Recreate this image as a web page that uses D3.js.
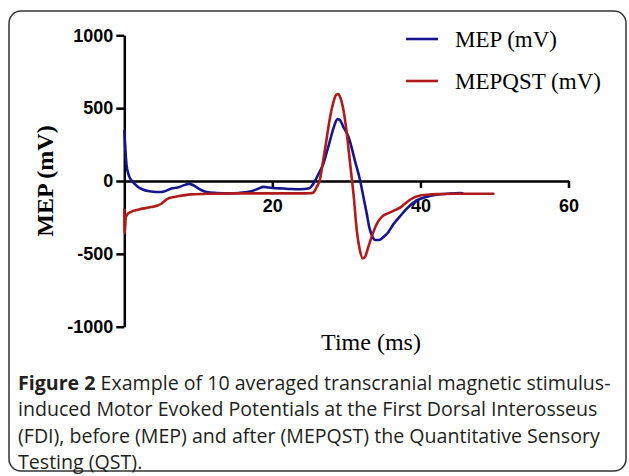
<!DOCTYPE html>
<html>
<head>
<meta charset="utf-8">
<script src="https://cdn.jsdelivr.net/npm/d3@7"></script>
<style>
  body { margin: 0; background: #fff; }
  svg { display: block; }
</style>
</head>
<body>
<svg id="chart" width="629" height="476"></svg>
<script>
// MEP before QST (blue)
var mepTime = [0, 0.3, 0.6, 0.95, 1.4, 1.85, 2.5, 3.2, 4.2, 5.0, 5.7, 6.35, 7.2, 8.0, 8.7, 9.2, 9.7, 10.4, 11.1, 12.5,
  14.0, 15.5, 17.0, 18.0, 18.8, 19.5, 20.1, 21.5, 22.5, 23.7, 25.0, 25.5, 26.0, 26.5, 26.9, 27.3, 27.8, 28.3, 28.8, 29.1,
  29.6, 30.3, 31.2, 31.85, 32.3, 32.75, 33.1, 33.5, 33.9, 34.4, 35.0, 35.6, 36.3, 37.2, 38.0, 38.6, 39.1, 40.0, 40.9, 42.2,
  43.6, 45.3, 45.8]
var mepValue = [349, 110, 40, 5, -20, -41, -58, -69, -75, -76, -66, -52, -45, -30, -20, -26, -41, -62, -76, -82,
  -85, -82, -72, -55, -40, -45, -48, -52, -55, -57, -50, -20, 25, 75, 120, 189, 280, 370, 425, 420,
  370, 300, 130, 5, -110, -224, -320, -380, -405, -405, -385, -355, -300, -245, -198, -168, -147, -122, -108, -94,
  -88, -83, -85]

// MEP after QST (red)
var qstTime = [0, 0.05, 0.2, 0.5, 1.0, 1.85, 3.6, 4.5, 5.0, 5.5, 5.9, 6.5, 7.2, 9.0, 11.7, 15, 20, 24.5, 25.0, 25.5,
  26.0, 26.4, 26.8, 27.3, 27.8, 28.2, 28.6, 28.9, 29.2, 29.6, 30.0, 30.5, 31.0, 31.4, 31.8, 32.2, 32.5, 33.0, 33.5, 34.0,
  34.5, 35.0, 35.6, 36.4, 37.2, 37.8, 38.5, 39.1, 40.0, 40.9, 42.5, 45, 50]
var qstValue = [-190, -360, -250, -224, -210, -197, -179, -168, -156, -135, -121, -112, -105, -92, -87, -85, -85, -85, -84, -80,
  -40, 5, 120, 280, 440, 533, 590, 597, 570, 487, 350, 120, -110, -339, -470, -530, -522, -445, -370, -305,
  -262, -237, -222, -203, -185, -160, -132, -114, -100, -94, -90, -88, -87]

var seriesNames = ['MEP (mV)', 'MEPQST (mV)']
var seriesColors = ['#16168c', '#b01b1b']
var xTicks = [20, 40, 60]
var yTicks = [-1000, -500, 0, 500, 1000]
var captionLines = [
  ['Figure 2', ' Example of 10 averaged transcranial magnetic stimulus-'],
  ['', 'induced Motor Evoked Potentials at the First Dorsal Interosseus'],
  ['', '(FDI), before (MEP) and after (MEPQST) the Quantitative Sensory'],
  ['', 'Testing (QST).']
]

var svg = d3.select('#chart')

// outer frame
svg.append('rect')
  .attr('x', 9).attr('y', 11)
  .attr('width', 617).attr('height', 460)
  .attr('rx', 12)
  .attr('fill', 'none')
  .attr('stroke', '#333')
  .attr('stroke-width', 1.5)

var x = d3.scaleLinear().domain([0, 60]).range([124.3, 568.5])
var y = d3.scaleLinear().domain([-1000, 1000]).range([326.7, 35.3])

function plain (d) { return String(d) }

// y axis
var yAxis = svg.append('g')
  .attr('transform', 'translate(' + x(0) + ',0)')
  .call(d3.axisLeft(y).tickValues(yTicks).tickFormat(plain).tickSize(8).tickSizeOuter(0).tickPadding(3))
yAxis.selectAll('path, line').attr('stroke', '#000').attr('stroke-width', 2.5)
yAxis.selectAll('text')
  .attr('font-family', 'Liberation Sans, Arial, sans-serif')
  .attr('font-weight', 'bold')
  .attr('font-size', 18)
  .attr('fill', '#000')

// x axis through zero
var xAxis = svg.append('g')
  .attr('transform', 'translate(0,' + y(0) + ')')
  .call(d3.axisBottom(x).tickValues(xTicks).tickFormat(plain).tickSize(7).tickSizeOuter(0).tickPadding(11))
xAxis.selectAll('path, line').attr('stroke', '#000').attr('stroke-width', 2.5)
xAxis.selectAll('text')
  .attr('font-family', 'Liberation Sans, Arial, sans-serif')
  .attr('font-weight', 'bold')
  .attr('font-size', 18)
  .attr('fill', '#000')

// curves
var line = d3.line()
  .x(function (d) { return x(d[0]) })
  .y(function (d) { return y(d[1]) })
  .curve(d3.curveMonotoneX)

var series = [
  d3.zip(mepTime, mepValue),
  d3.zip(qstTime, qstValue)
]

svg.selectAll('.trace')
  .data(series)
  .enter()
  .append('path')
  .attr('class', 'trace')
  .attr('d', line)
  .attr('fill', 'none')
  .attr('stroke', function (d, i) { return seriesColors[i] })
  .attr('stroke-width', 2.6)
  .attr('stroke-linejoin', 'round')

// axis titles
svg.append('text')
  .attr('transform', 'translate(53,181) rotate(-90)')
  .attr('text-anchor', 'middle')
  .attr('font-family', 'Liberation Serif, Times New Roman, serif')
  .attr('font-weight', 'bold')
  .attr('font-size', 24)
  .text('MEP (mV)')

svg.append('text')
  .attr('x', 371).attr('y', 350)
  .attr('text-anchor', 'middle')
  .attr('font-family', 'Liberation Serif, Times New Roman, serif')
  .attr('font-size', 24)
  .text('Time (ms)')

// legend
var legend = svg.selectAll('.legend')
  .data(seriesNames)
  .enter()
  .append('g')
  .attr('class', 'legend')
  .attr('transform', function (d, i) { return 'translate(406,' + (39 + i * 42) + ')' })

legend.append('line')
  .attr('x1', 0).attr('x2', 32)
  .attr('stroke', function (d, i) { return seriesColors[i] })
  .attr('stroke-width', 2.6)

legend.append('text')
  .attr('x', 49).attr('y', 8)
  .attr('font-family', 'Liberation Serif, Times New Roman, serif')
  .attr('font-size', 23)
  .text(function (d) { return d })

// caption
var caption = svg.selectAll('.caption')
  .data(captionLines)
  .enter()
  .append('text')
  .attr('class', 'caption')
  .attr('x', 18)
  .attr('y', function (d, i) { return 390 + i * 26.4 })
  .attr('font-family', 'Open Sans, sans-serif')
  .attr('font-size', 19.6)
  .attr('fill', '#231f20')

caption.append('tspan')
  .attr('font-weight', 'bold')
  .text(function (d) { return d[0] })
caption.append('tspan')
  .text(function (d) { return d[1] })
</script>
</body>
</html>
